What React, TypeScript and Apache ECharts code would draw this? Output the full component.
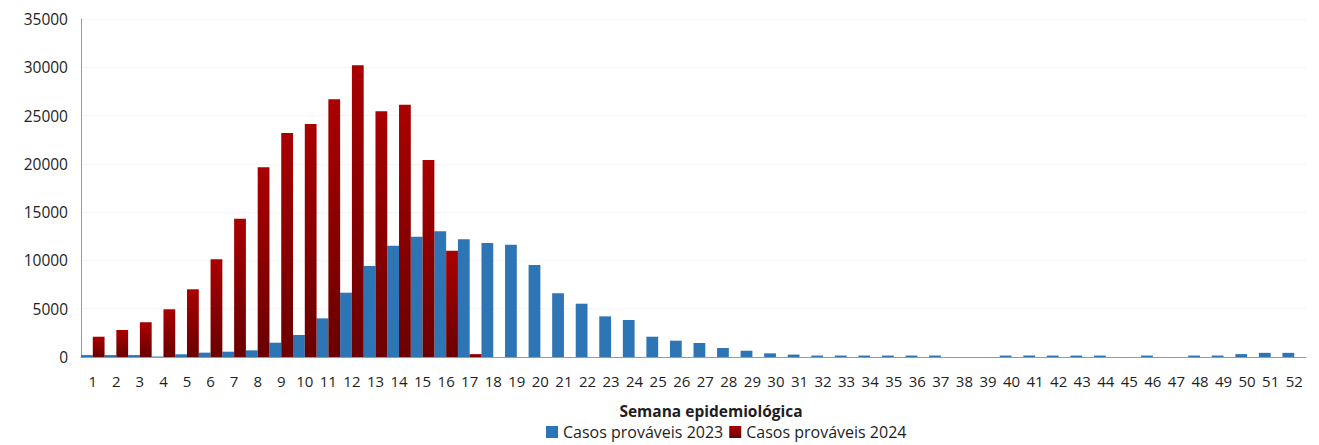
import React, { useEffect, useRef } from "react";
import * as echarts from "echarts";

const weeks: string[] = Array.from({ length: 52 }, (_, i) => String(i + 1));

const cases2023: number[] = [
  200, 200, 200, 50, 280, 450, 550, 690, 1480, 2280,
  4000, 6660, 9420, 11530, 12460, 13010, 12190, 11800, 11630, 9530,
  6600, 5520, 4210, 3830, 2100, 1690, 1450, 930, 650, 380,
  250, 150, 150, 150, 150, 150, 150, 0, 0, 150,
  150, 150, 150, 150, 0, 150, 0, 150, 150, 300,
  430, 430,
];

const cases2024: (number | null)[] = [
  2100, 2800, 3600, 4940, 7010, 10110, 14320, 19640, 23200, 24130,
  26680, 30200, 25440, 26130, 20400, 11010, 300,
];

const yTicks = { min: 0, max: 35000, interval: 5000 };

export default function App() {
  const ref = useRef<HTMLDivElement>(null);
  useEffect(() => {
    if (!ref.current) return;
    const chart = echarts.init(ref.current, null, { renderer: "svg" });
    const font = "'Open Sans', 'Liberation Sans', sans-serif";
    chart.setOption({
      animation: false,
      textStyle: { fontFamily: font },
      grid: { left: 81, right: 13, top: 19, bottom: 88, containLabel: false },
      legend: {
        bottom: 0,
        left: 541,
        itemWidth: 12,
        itemHeight: 12,
        itemGap: 6,
        icon: "rect",
        textStyle: { fontSize: 16, color: "#1e1e1e", fontFamily: font },
        data: ["Casos prováveis 2023", "Casos prováveis 2024"],
      },
      graphic: [
        {
          type: "text",
          x: 711,
          y: 411,
          style: {
            text: "Semana epidemiológica",
            fontSize: 15.5,
            fontWeight: "bold",
            fill: "#1e1e1e",
            fontFamily: font,
            align: "center",
            verticalAlign: "middle",
          },
        },
      ],
      xAxis: {
        type: "category",
        data: weeks,
        axisLine: { lineStyle: { color: "#999", width: 1 } },
        axisTick: { show: false },
        axisLabel: { fontSize: 15, color: "#1e1e1e", interval: 0, margin: 16 },
      },
      yAxis: {
        type: "value",
        min: yTicks.min,
        max: yTicks.max,
        interval: yTicks.interval,
        axisLine: { show: true, lineStyle: { color: "#999", width: 1 } },
        axisTick: { show: false },
        axisLabel: { fontSize: 15.5, color: "#1e1e1e", margin: 13, formatter: (v: number) => String(v) },
        splitLine: { lineStyle: { color: "#f4f4f4" } },
      },
      series: [
        {
          name: "Casos prováveis 2023",
          type: "bar",
          data: cases2023,
          barGap: "0%",
          barCategoryGap: "0%",
          itemStyle: { color: "#2E75B6" },
        },
        {
          name: "Casos prováveis 2024",
          type: "bar",
          data: cases2024,
          barGap: "0%",
          barCategoryGap: "0%",
          itemStyle: {
            color: new echarts.graphic.LinearGradient(0, 0, 0, 1, [
              { offset: 0, color: "#AA0000" },
              { offset: 1, color: "#6A0000" },
            ]),
          },
        },
      ],
    });
    return () => chart.dispose();
  }, []);
  return (
    <div
      ref={ref}
      style={{ position: "fixed", left: 0, top: 0, width: 1319, height: 445, background: "#fff" }}
    />
  );
}
